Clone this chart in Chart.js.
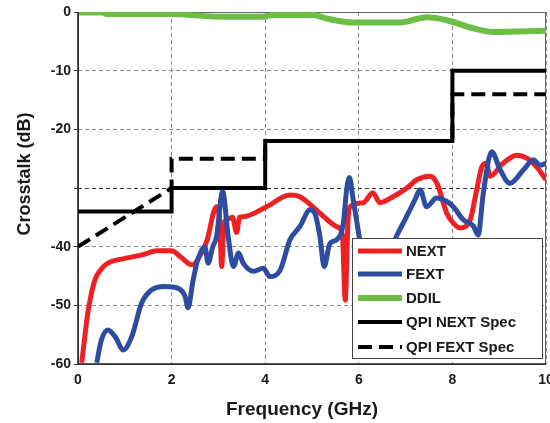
<!DOCTYPE html>
<html>
<head>
<meta charset="utf-8">
<script src="https://cdn.jsdelivr.net/npm/chart.js@4"></script>
<style>
  body { margin: 0; background: #fff; }
  canvas { display: block; }
</style>
</head>
<body>
<canvas id="crosstalk-chart" width="550" height="423"></canvas>
<script>
// Değerler
const nextFreq = [0.08, 0.15, 0.21, 0.36, 0.5, 0.64, 1.0, 1.37, 1.69, 2.0, 2.2, 2.44, 2.56, 2.75, 2.96, 3.03, 3.07, 3.12, 3.18, 3.3, 3.39, 3.45, 3.53, 4.03, 4.53, 4.74, 5.17, 5.53, 5.65, 5.71, 5.77, 5.81, 6.1, 6.3, 6.45, 6.73, 7.03, 7.24, 7.52, 7.67, 7.88, 8.02, 8.16, 8.38, 8.52, 8.63, 8.73, 8.8, 9.08, 9.37, 9.59, 9.8, 10];
const nextDb = [-59.8, -55, -51.3, -45.7, -43.8, -42.8, -42, -41.4, -40.7, -40.7, -41.8, -43.1, -42.2, -39.1, -33.2, -36, -43.4, -36, -35.4, -35, -37.6, -35, -34.9, -33.2, -31.2, -31.5, -34.3, -36.6, -38, -49.1, -35.4, -33.2, -32.5, -30.8, -32.5, -31.5, -30, -28.6, -28, -29.2, -34.3, -36, -36.8, -35.4, -30.3, -26.4, -25.8, -28, -25.8, -24.4, -24.9, -26.4, -28.6];

const fextFreq = [0.4, 0.5, 0.64, 0.79, 0.97, 1.15, 1.36, 1.57, 1.86, 2.14, 2.29, 2.35, 2.46, 2.56, 2.71, 2.78, 2.88, 2.96, 3.09, 3.21, 3.32, 3.43, 3.53, 3.75, 3.96, 4.1, 4.32, 4.53, 4.74, 4.96, 5.06, 5.17, 5.26, 5.38, 5.53, 5.67, 5.74, 5.8, 5.88, 5.95, 6.05, 6.3, 6.6, 6.8, 7.02, 7.2, 7.31, 7.45, 7.66, 7.88, 8.02, 8.23, 8.45, 8.55, 8.66, 8.84, 9.02, 9.23, 9.52, 9.73, 9.87, 10];
const fextDb = [-59.8, -55.9, -54.2, -55.3, -57.6, -55.3, -49.6, -47.4, -46.8, -47.1, -48.5, -50.4, -45.7, -42.2, -40, -42.8, -40, -38.3, -30.6, -38.3, -43.4, -41.1, -42.8, -44.2, -43.7, -45.1, -44, -38.8, -36.6, -33.7, -34.3, -38.3, -43.4, -39.5, -38.8, -36, -30.3, -28.2, -32, -35.4, -40, -44, -42, -38.3, -34.9, -32, -30.3, -33.2, -31.7, -32.3, -33.2, -35.4, -36.5, -38, -30.9, -23.8, -26.9, -29.2, -26.9, -25.2, -26.1, -25.8];

const ddilFreq = [0.02, 0.54, 0.61, 1.97, 3.03, 3.96, 4.17, 5.03, 5.31, 5.88, 6.88, 7.45, 7.88, 8.45, 8.87, 10];
const ddilDb = [-0.1, -0.1, -0.35, -0.35, -0.8, -0.8, -0.5, -0.5, -1.1, -1.8, -1.8, -0.9, -1.4, -2.8, -3.4, -3.2];

const qpiNextFreq = [0, 2, 2, 4, 4, 8, 8, 10];
const qpiNextDb = [-34, -34, -30, -30, -22, -22, -10, -10];

const qpiFextFreq = [0, 2, 2, 4, 4, 8, 8, 10];
const qpiFextDb = [-40, -30, -25, -25, -22, -22, -14, -14];

const xTicks = [0, 2, 4, 6, 8, 10];
const yTicks = [0, -10, -20, -30, -40, -50, -60];
const hiddenYLabels = [-30];

const seriesNames = ["NEXT", "FEXT", "DDIL", "QPI NEXT Spec", "QPI FEXT Spec"];

const FONT = "'Liberation Sans', Arial, sans-serif";

function toPoints(xs, ys) {
    return xs.map((x, i) => ({ x: x, y: ys[i] }));
}

// Eksen başlıkları, çerçeve ve açıklama kutusu
const decorPlugin = {
    id: "decor",
    beforeDatasetsDraw(chart) {
        const { ctx, chartArea: a } = chart;
        ctx.save();
        ctx.strokeStyle = "#666";
        ctx.lineWidth = 1;
        ctx.strokeRect(a.left + 0.5, a.top + 0.5, a.right - a.left - 1, a.bottom - a.top);
        ctx.strokeStyle = "#222";
        ctx.lineWidth = 1.5;
        ctx.beginPath();
        ctx.moveTo(a.left, a.top);
        ctx.lineTo(a.left, a.bottom);
        ctx.lineTo(a.right, a.bottom);
        ctx.stroke();
        ctx.restore();
    },
    afterDraw(chart) {
        const { ctx } = chart;
        ctx.save();
        ctx.fillStyle = "#1a1a1a";
        ctx.textAlign = "center";
        ctx.textBaseline = "middle";
        ctx.font = "bold 19px " + FONT;
        ctx.fillText("Frequency (GHz)", 302, 410);
        ctx.translate(25, 174);
        ctx.rotate(-Math.PI / 2);
        ctx.font = "bold 18px " + FONT;
        ctx.fillText("Crosstalk (dB)", 0, 0);
        ctx.restore();

        // açıklama kutusu
        const box = { x: 352, y: 238, w: 190, h: 120 };
        ctx.save();
        ctx.fillStyle = "#fff";
        ctx.fillRect(box.x, box.y, box.w, box.h);
        ctx.strokeStyle = "#444";
        ctx.lineWidth = 1;
        ctx.strokeRect(box.x + 0.5, box.y + 0.5, box.w, box.h);
        const rows = [251, 274, 298, 322, 347];
        chart.data.datasets.forEach((ds, i) => {
            const y = rows[i];
            ctx.strokeStyle = ds.borderColor;
            ctx.lineWidth = ds.borderWidth;
            ctx.setLineDash(ds.borderDash || []);
            ctx.beginPath();
            ctx.moveTo(358, y);
            ctx.lineTo(402, y);
            ctx.stroke();
            ctx.setLineDash([]);
            ctx.fillStyle = "#1a1a1a";
            ctx.font = "bold 15px " + FONT;
            ctx.textAlign = "left";
            ctx.textBaseline = "middle";
            ctx.fillText(ds.label, 406, y + 1);
        });
        ctx.restore();
    }
};

const ctx = document.getElementById("crosstalk-chart").getContext("2d");
new Chart(ctx, {
    type: "line",
    data: {
        datasets: [
            {
                label: seriesNames[0],
                data: toPoints(nextFreq, nextDb),
                borderColor: "rgb(237, 32, 36)",
                borderWidth: 5,
                cubicInterpolationMode: "monotone",
                order: 5,
            },
            {
                label: seriesNames[1],
                data: toPoints(fextFreq, fextDb),
                borderColor: "rgb(46, 76, 160)",
                borderWidth: 5,
                cubicInterpolationMode: "monotone",
                order: 4,
            },
            {
                label: seriesNames[2],
                data: toPoints(ddilFreq, ddilDb),
                borderColor: "rgb(108, 190, 69)",
                borderWidth: 6,
                cubicInterpolationMode: "monotone",
                order: 3,
            },
            {
                label: seriesNames[3],
                data: toPoints(qpiNextFreq, qpiNextDb),
                borderColor: "#000",
                borderWidth: 4,
                tension: 0,
                order: 2,
            },
            {
                label: seriesNames[4],
                data: toPoints(qpiFextFreq, qpiFextDb),
                borderColor: "#000",
                borderWidth: 4,
                borderDash: [14, 7],
                tension: 0,
                order: 1,
            },
        ],
    },
    options: {
        responsive: false,
        animation: false,
        layout: { padding: { left: 0, right: 4, top: 12, bottom: 0 } },
        elements: { point: { radius: 0 }, line: { borderJoinStyle: "miter", borderCapStyle: "butt" } },
        plugins: {
            legend: { display: false },
            tooltip: { enabled: false },
        },
        scales: {
            x: {
                type: "linear",
                min: 0,
                max: 10,
                afterBuildTicks: (s) => { s.ticks = xTicks.map((v) => ({ value: v })); },
                afterFit: (s) => { s.height = 59; s.paddingLeft = 0; s.paddingRight = 0; },
                ticks: {
                    padding: 8,
                    color: "#1a1a1a",
                    font: { family: FONT, size: 14, weight: "bold" },
                    maxRotation: 0,
                },
                grid: {
                    color: "#888",
                    lineWidth: 1,
                    drawTicks: false,
                },
                border: { display: false, dash: [4, 3] },
            },
            y: {
                type: "linear",
                min: -60,
                max: 0,
                afterBuildTicks: (s) => { s.ticks = yTicks.map((v) => ({ value: v })); },
                afterFit: (s) => { s.width = 78; s.paddingTop = 0; s.paddingBottom = 0; },
                ticks: {
                    padding: 3,
                    color: "#1a1a1a",
                    font: { family: FONT, size: 14, weight: "bold" },
                    callback: (v) => (hiddenYLabels.includes(v) ? "" : String(v)),
                },
                grid: {
                    color: (c) => (c.tick && c.tick.value === -30 ? "#333" : "#888"),
                    lineWidth: 1,
                    tickLength: 4,
                    tickColor: "#333",
                },
                border: { display: false, dash: [4, 3] },
            },
        },
    },
    plugins: [decorPlugin],
});
</script>
</body>
</html>
